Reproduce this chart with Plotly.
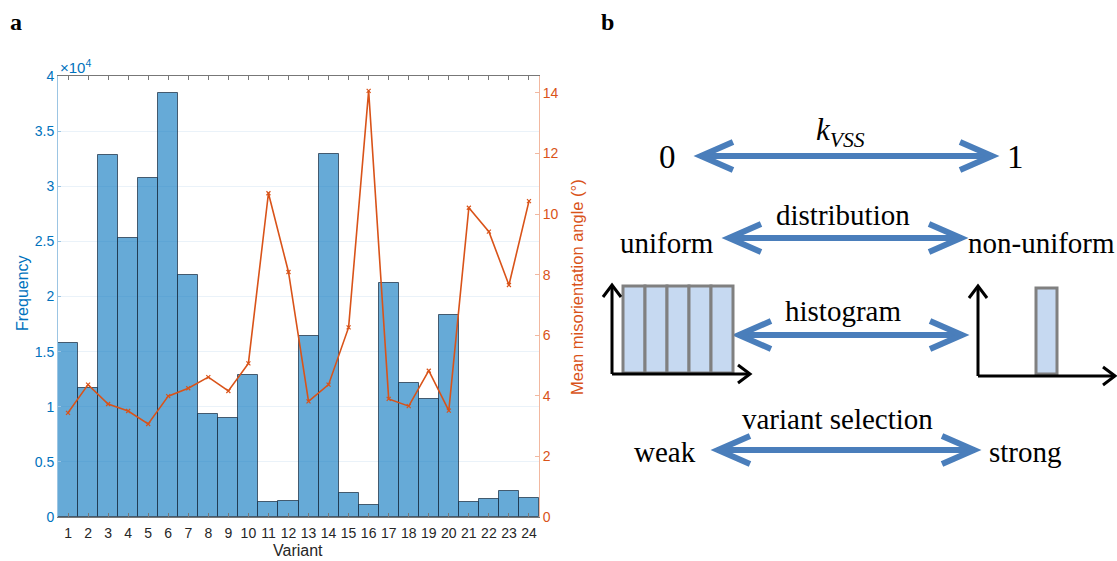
import plotly.graph_objects as go

W, H = 1117, 561

variants = list(range(1, 25))
frequency = [15800, 11700, 32860, 25280, 30780, 38430, 21920, 9340, 8950, 12880,
             1360, 1420, 16440, 32900, 2180, 1090, 21200, 12130, 10730, 18320,
             1390, 1600, 2360, 1700]
mean_angle = [3.44, 4.37, 3.73, 3.50, 3.07, 3.99, 4.25, 4.62, 4.16, 5.07,
              10.69, 8.09, 3.82, 4.37, 6.26, 14.07, 3.90, 3.66, 4.83, 3.51,
              10.21, 9.42, 7.66, 10.43]
freq_ticks = [0, 5000, 10000, 15000, 20000, 25000, 30000, 35000, 40000]
freq_ticktext = ["0", "0.5", "1", "1.5", "2", "2.5", "3", "3.5", "4"]
angle_ticks = [0, 2, 4, 6, 8, 10, 12, 14]

BLUE = "#0072BD"
ORANGE = "#D95319"
SANS = "Liberation Sans"
SERIF = "Liberation Serif"


def px(x):
    return x / W


def py(y):
    return 1 - y / H


fig = go.Figure()
fig.add_trace(go.Bar(
    x=variants, y=frequency, width=1,
    marker=dict(color="rgba(0,114,189,0.6)", line=dict(color="rgba(30,50,70,0.75)", width=1)),
    yaxis="y", hoverinfo="skip"))
fig.add_trace(go.Scatter(
    x=variants, y=mean_angle, mode="lines+markers", yaxis="y2",
    line=dict(color=ORANGE, width=1.6),
    marker=dict(symbol="x-thin", size=4, line=dict(color=ORANGE, width=1.2), color=ORANGE),
    hoverinfo="skip"))

fig.update_layout(
    width=W, height=H, margin=dict(l=0, r=0, t=0, b=0, autoexpand=False),
    plot_bgcolor="white", paper_bgcolor="white", showlegend=False, bargap=0,
    xaxis=dict(domain=[px(58), px(539)], range=[0.5, 24.5], tickmode="array", tickvals=variants,
               ticks="inside", ticklen=4, tickcolor="#777", showline=True, linecolor="#777",
               linewidth=1, mirror="ticks", showgrid=False, zeroline=False, automargin=False,
               ticklabelstandoff=3,
               tickfont=dict(family=SANS, size=14, color="#262626")),
    yaxis=dict(domain=[py(517), py(76)], range=[0, 40000], tickmode="array", tickvals=freq_ticks,
               ticktext=freq_ticktext, ticks="inside", ticklen=3, tickcolor="#9cc5e3",
               showline=True, linecolor="#9cc5e3", linewidth=1, showgrid=True, gridcolor="#EAF2F9",
               zeroline=False, automargin=False,
               tickfont=dict(family=SANS, size=14, color=BLUE)),
    yaxis2=dict(overlaying="y", side="right", anchor="x", range=[0, 14.56], tickmode="array",
                tickvals=angle_ticks, ticks="inside", ticklen=4, tickcolor="#F2B8A0",
                showline=True, linecolor="#F2B8A0", linewidth=1, showgrid=False, zeroline=False,
                automargin=False,
                tickfont=dict(family=SANS, size=14, color=ORANGE)),
)

annotations = [
    dict(x=px(58), y=py(66), xref="paper", yref="paper", text="×10<sup>4</sup>", showarrow=False,
         xanchor="left", yanchor="middle", font=dict(family=SANS, size=15, color=BLUE)),
    dict(x=px(22), y=py(293), xref="paper", yref="paper", text="Frequency", showarrow=False,
         textangle=-90, xanchor="center", yanchor="middle", font=dict(family=SANS, size=16, color=BLUE)),
    dict(x=px(298), y=py(550), xref="paper", yref="paper", text="Variant", showarrow=False,
         xanchor="center", yanchor="middle", font=dict(family=SANS, size=16, color="#262626")),
    dict(x=px(577), y=py(287), xref="paper", yref="paper", text="Mean misorientation angle (°)",
         showarrow=False, textangle=-90, xanchor="center", yanchor="middle",
         font=dict(family=SANS, size=16.5, color=ORANGE)),
    dict(x=px(16), y=py(22), xref="paper", yref="paper", text="<b>a</b>", showarrow=False,
         xanchor="center", yanchor="middle", font=dict(family=SERIF, size=24, color="black")),
    dict(x=px(607), y=py(22), xref="paper", yref="paper", text="<b>b</b>", showarrow=False,
         xanchor="center", yanchor="middle", font=dict(family=SERIF, size=24, color="black")),
]


def txt(x, y, s, size=29):
    annotations.append(dict(x=px(x), y=py(y), xref="paper", yref="paper", text=s, showarrow=False,
                            xanchor="center", yanchor="middle",
                            font=dict(family=SERIF, size=size, color="black")))


txt(840, 132, "<i>k</i><sub><i>VSS</i></sub>", size=31)
txt(667, 157, "0", size=33)
txt(1015, 157, "1", size=33)
txt(843, 215, "distribution")
txt(667, 243, "uniform")
txt(1041, 243, "non-uniform")
txt(843, 311, "histogram")
txt(837, 419, "variant selection")
txt(665, 452, "weak")
txt(1025, 452, "strong")

shapes = []
ARROW = "#4A7EBB"


def path(points, color, width):
    d = "M " + " L ".join(f"{px(x):.5f},{py(y):.5f}" for x, y in points)
    shapes.append(dict(type="path", path=d, xref="paper", yref="paper",
                       line=dict(color=color, width=width)))


def double_arrow(x1, x2, y, dx=32, dy=14, w=6):
    path([(x1 + 2, y), (x2 - 2, y)], ARROW, w)
    path([(x1 + dx, y - dy), (x1, y), (x1 + dx, y + dy)], ARROW, w)
    path([(x2 - dx, y - dy), (x2, y), (x2 - dx, y + dy)], ARROW, w)


double_arrow(701, 992, 156)
double_arrow(729, 961, 238)
double_arrow(739, 962, 335)
double_arrow(718, 974, 450)


def axes_arrow(x0, y0, xend, ytop):
    path([(x0, y0), (x0, ytop)], "black", 3)
    path([(x0 - 9, ytop + 12), (x0, ytop), (x0 + 9, ytop + 12)], "black", 3)
    path([(x0, y0), (xend, y0)], "black", 3)
    path([(xend - 12, y0 - 9), (xend, y0), (xend - 12, y0 + 9)], "black", 3)


def rect(x0, y0, x1, y1):
    shapes.append(dict(type="rect", xref="paper", yref="paper", x0=px(x0), x1=px(x1), y0=py(y1), y1=py(y0),
                       fillcolor="#C6D9F1", line=dict(color="#808080", width=3)))


for i in range(5):
    rect(623 + i * 22, 286, 623 + (i + 1) * 22, 373)
rect(1036, 288, 1057, 374)
axes_arrow(612, 374, 750, 285)
axes_arrow(978, 376, 1115, 286)

fig.update_layout(annotations=annotations, shapes=shapes)
fig.write_html("out.html")
